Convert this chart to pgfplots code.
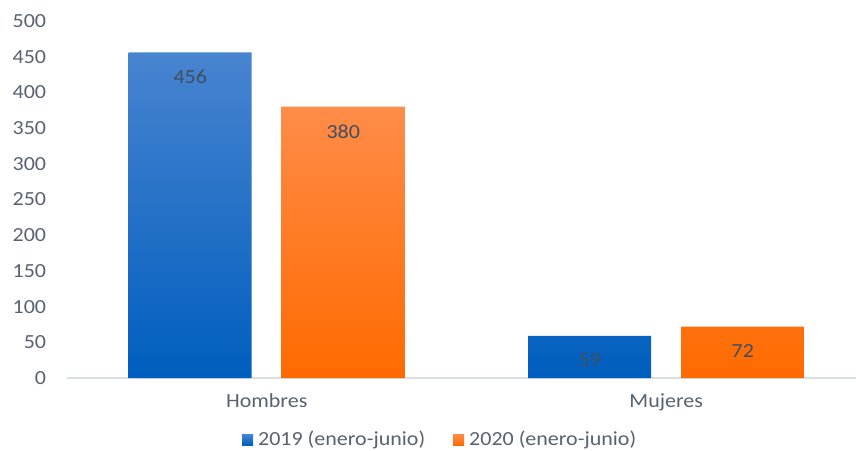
\documentclass[border=0pt]{standalone}
\usepackage{fontspec}
\setmainfont[FakeStretch=1.1]{Carlito}
\usepackage{pgfplots}
\pgfplotsset{compat=1.18}
\definecolor{txt}{RGB}{88,98,112}
\definecolor{lbl}{RGB}{64,78,96}
\definecolor{btop}{RGB}{72,132,208}
\definecolor{bbot}{RGB}{0,94,190}
\definecolor{otop}{RGB}{255,140,72}
\definecolor{obot}{RGB}{255,106,0}
\definecolor{axl}{RGB}{217,222,230}
\begin{document}
\fontsize{20}{24}\selectfont
\begin{tikzpicture}
\useasboundingbox (-67pt,-72pt) rectangle (789pt,378pt);
\begin{axis}[
  at={(0pt,0pt)}, anchor=south west,
  scale only axis, width=789pt, height=357pt,
  xmin=-0.5, xmax=1.475, ymin=0, ymax=500,
  ybar=0pt, bar width=123pt,
  axis x line*=bottom, axis y line*=left,
  x axis line style={draw=axl, line width=1.2pt, -},
  y axis line style={draw=none},
  major tick length=0pt,
  xtick={0,1}, xticklabels={Hombres,Mujeres},
  ytick={0,50,...,500},
  /pgf/number format/assume math mode=true,
  tick label style={font=\fontsize{20}{24}\selectfont, text=txt},
  yticklabel style={xshift=-14pt},
  xticklabel style={yshift=-9pt},
  nodes near coords,
  every node near coord/.append style={anchor=north, yshift=-11pt, text=lbl, font=\fontsize{20}{24}\selectfont},
  legend style={draw=none, at={(0.473,-0.174)}, anchor=center, legend columns=2,
    font=\fontsize{20}{24}\selectfont, text=txt,
    /tikz/every odd column/.append style={column sep=3pt},
    /tikz/every even column/.append style={column sep=26pt}},
  legend image code/.code={\fill[#1] (0pt,-5pt) rectangle (11pt,6pt);},
  clip=false,
]
\addplot[bar shift=-76.5pt, draw=none, top color=btop, bottom color=bbot] coordinates {(0,456) (1,59)};
\addplot[bar shift=76.5pt, draw=none, top color=otop, bottom color=obot] coordinates {(0,380) (1,72)};
\legend{2019 (enero-junio), 2020 (enero-junio)}
\end{axis}
\end{tikzpicture}
\end{document}
